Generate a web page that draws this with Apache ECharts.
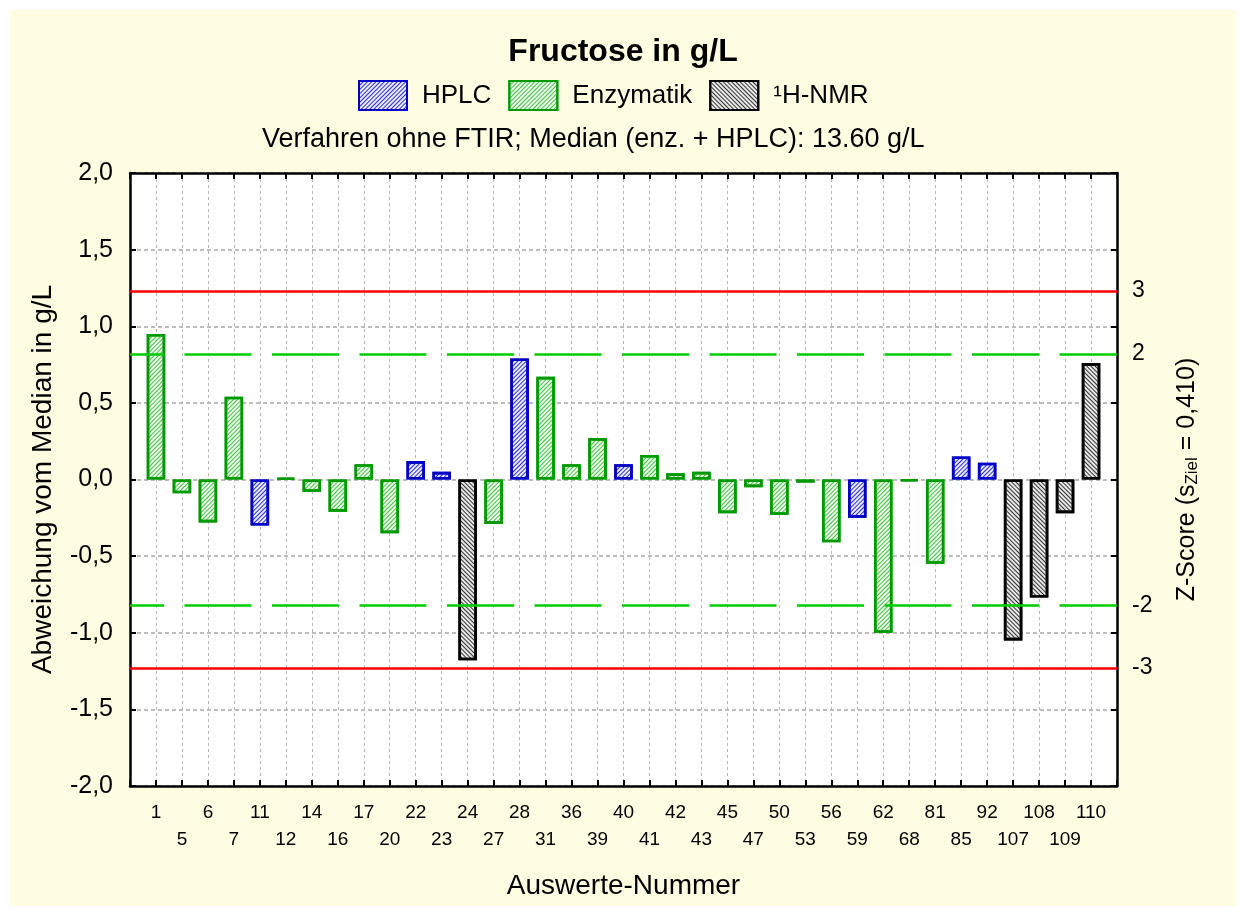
<!DOCTYPE html>
<html>
<head>
<meta charset="utf-8">
<script src="https://cdn.jsdelivr.net/npm/echarts@6/dist/echarts.min.js"></script>
<style>
html,body{margin:0;padding:0;background:#fff;}
#chart{width:1246px;height:908px;}
</style>
</head>
<body>
<div id="chart"></div>
<script>
const categories = ['1','5','6','7','11','12','14','16','17','20','22','23','24','27','28','31','36','39','40','41','42','43','45','47','50','53','56','59','62','68','81','85','92','107','108','109','110'];
const deviations = [0.95,-0.09,-0.28,0.54,-0.30,0.01,-0.08,-0.21,0.10,-0.35,0.12,0.05,-1.18,-0.29,0.79,0.67,0.10,0.27,0.10,0.16,0.04,0.05,-0.22,-0.05,-0.23,-0.02,-0.41,-0.25,-1.00,-0.01,-0.55,0.15,0.11,-1.05,-0.77,-0.22,0.76];
const methods = ['Enzymatik','Enzymatik','Enzymatik','Enzymatik','HPLC','Enzymatik','Enzymatik','Enzymatik','Enzymatik','Enzymatik','HPLC','HPLC','¹H-NMR','Enzymatik','HPLC','Enzymatik','Enzymatik','Enzymatik','HPLC','Enzymatik','Enzymatik','Enzymatik','Enzymatik','Enzymatik','Enzymatik','Enzymatik','Enzymatik','HPLC','Enzymatik','Enzymatik','Enzymatik','HPLC','HPLC','¹H-NMR','¹H-NMR','¹H-NMR','¹H-NMR'];
const seriesNames = ['HPLC','Enzymatik','¹H-NMR'];
const sZiel = 0.410;
const zLimitsRed = [3, -3];
const zLimitsGreen = [2, -2];
const yTicks = { min: -2, max: 2, step: 0.5 };

const FONT = 'Liberation Sans, Arial, Helvetica, sans-serif';
const styles = {
  'HPLC': { fill: '#ececff', line: '#2a2ad8', border: '#0000c4', rot: -Math.PI / 4 },
  'Enzymatik': { fill: '#eeffee', line: '#44c044', border: '#009a00', rot: -Math.PI / 4 },
  '¹H-NMR': { fill: '#e8e8e8', line: '#333333', border: '#000000', rot: Math.PI / 4 }
};

const axisData = [''].concat(categories, ['']);

const series = seriesNames.map(function (name, si) {
  const st = styles[name];
  const data = [null].concat(deviations.map(function (v, i) { return methods[i] === name ? v : null; }), [null]);
  const s = {
    name: name,
    type: 'bar',
    data: data,
    barWidth: 18.5,
    barGap: '-100%',
    itemStyle: {
      color: st.fill,
      borderColor: st.border,
      borderWidth: 2.6,
      decal: {
        symbol: 'rect',
        symbolSize: 1,
        color: st.line,
        dashArrayX: [1, 0],
        dashArrayY: [1, 2],
        rotation: st.rot
      }
    },
    emphasis: { disabled: true }
  };
  if (si === 0) {
    const lines = [];
    zLimitsRed.forEach(function (z) {
      lines.push({ yAxis: z * sZiel, lineStyle: { color: '#ff0000', width: 2.5, type: 'solid' } });
    });
    zLimitsGreen.forEach(function (z) {
      lines.push({ yAxis: z * sZiel, lineStyle: { color: '#00cc00', width: 2.5, type: [67, 20.5], dashOffset: 33 } });
    });
    s.markLine = { silent: true, symbol: 'none', label: { show: false }, data: lines, z: 10 };
  }
  return s;
});

const chart = echarts.init(document.getElementById('chart'), null, { renderer: 'canvas' });
chart.setOption({
  animation: false,
  backgroundColor: 'transparent',
  textStyle: { fontFamily: FONT },
  graphic: [{
    type: 'rect', z: -100, silent: true,
    shape: { x: 10, y: 10, width: 1226, height: 896 },
    style: { fill: '#fffde1' }
  }],
  title: [
    { text: 'Fructose in g/L', left: 'center', top: 31,
      textStyle: { fontFamily: FONT, fontSize: 32, fontWeight: 'bold', color: '#000' } },
    { text: 'Verfahren ohne FTIR; Median (enz. + HPLC): 13.60 g/L', left: 257, top: 121,
      textStyle: { fontFamily: FONT, fontSize: 27, fontWeight: 'normal', color: '#000' } }
  ],
  legend: {
    data: seriesNames,
    left: 353, top: 75,
    icon: 'rect',
    itemWidth: 48, itemHeight: 29,
    itemGap: 17,
    textStyle: { fontFamily: FONT, fontSize: 26, color: '#000', padding: [0, 0, 0, 10] },
    selectedMode: false
  },
  grid: { left: 130, right: 129, top: 173, bottom: 122, show: true, backgroundColor: '#ffffff', borderWidth: 0 },
  xAxis: [{
    type: 'category', data: axisData, boundaryGap: false, position: 'bottom',
    name: 'Auswerte-Nummer', nameLocation: 'middle', nameGap: 86,
    nameTextStyle: { fontFamily: FONT, fontSize: 28, color: '#000' },
    axisLine: { onZero: false, lineStyle: { color: '#000', width: 2.5 } },
    axisTick: { inside: true, length: 6, interval: 0, lineStyle: { color: '#000', width: 2 } },
    axisLabel: { interval: 0, fontSize: 19, color: '#000', margin: 13, lineHeight: 27,
      formatter: function (v, idx) { return idx % 2 === 0 ? '\n' + v : v; } },
    splitLine: { show: true, interval: 0, lineStyle: { color: '#b8b8b8', width: 1, type: [3, 3] } }
  }, {
    type: 'category', data: axisData, boundaryGap: false, position: 'top',
    axisLine: { onZero: false, lineStyle: { color: '#000', width: 2.5 } },
    axisTick: { inside: true, length: 6, interval: 0, lineStyle: { color: '#000', width: 2 } },
    axisLabel: { show: false },
    splitLine: { show: false }
  }],
  yAxis: [{
    type: 'value', min: yTicks.min, max: yTicks.max, interval: yTicks.step, position: 'left',
    name: 'Abweichung vom Median in g/L', nameLocation: 'middle', nameGap: 73, nameRotate: 90,
    nameTextStyle: { fontFamily: FONT, fontSize: 28, color: '#000' },
    axisLine: { show: true, lineStyle: { color: '#000', width: 2.5 } },
    axisTick: { show: true, inside: true, length: 6, lineStyle: { color: '#000', width: 2 } },
    axisLabel: { fontSize: 25, color: '#000', margin: 17,
      formatter: function (v) { return v.toFixed(1).replace('.', ','); } },
    splitLine: { show: true, lineStyle: { color: '#a8a8a8', width: 1.6, type: [4, 3] } }
  }, {
    type: 'value', min: yTicks.min, max: yTicks.max, interval: yTicks.step, position: 'right',
    name: 'Z-Score (s{sub|Ziel} = 0,410)', nameLocation: 'middle', nameGap: 56, nameRotate: 90,
    nameTextStyle: { fontFamily: FONT, fontSize: 25, color: '#000',
      rich: { sub: { fontFamily: FONT, fontSize: 17, color: '#000', padding: [11, 0, 0, 0] } } },
    axisLine: { show: true, lineStyle: { color: '#000', width: 2.5 } },
    axisTick: { show: true, inside: true, length: 6, lineStyle: { color: '#000', width: 2 } },
    axisLabel: { fontSize: 23, color: '#000', margin: 15,
      customValues: zLimitsRed.concat(zLimitsGreen).map(function (z) { return z * sZiel; }),
      formatter: function (v) { return String(Math.round(v / sZiel)); } },
    splitLine: { show: false }
  }],
  series: series
});
</script>
</body>
</html>
